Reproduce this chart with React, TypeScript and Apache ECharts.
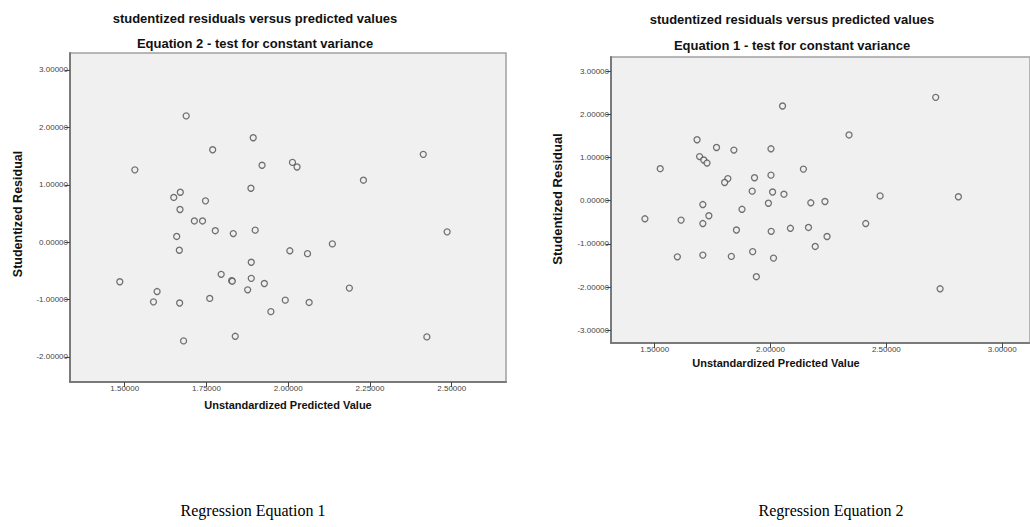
import React, { useEffect, useRef } from "react";
import * as echarts from "echarts";

// Left panel (Equation 2) – unstandardized predicted value vs studentized residual
const eq2Predicted = [
  1.688, 1.531, 1.769, 1.893, 1.92, 1.886, 1.65, 1.67, 1.747, 1.669, 1.713,
  1.738, 1.777, 1.832, 1.899, 1.659, 1.667, 1.887, 1.795, 1.827, 1.829, 1.887,
  1.485, 1.599, 1.876, 1.76, 1.588, 1.668, 1.68, 1.838, 2.013, 2.027, 2.23,
  2.413, 2.486, 2.005, 2.059, 2.135, 1.927, 2.187, 1.991, 2.064, 1.947, 2.424,
];
const eq2Residual = [
  2.2, 1.26, 1.61, 1.82, 1.34, 0.94, 0.78, 0.87, 0.72, 0.57, 0.37,
  0.37, 0.2, 0.15, 0.21, 0.1, -0.14, -0.35, -0.56, -0.67, -0.68, -0.63,
  -0.69, -0.86, -0.83, -0.98, -1.04, -1.06, -1.72, -1.64, 1.39, 1.31, 1.08,
  1.53, 0.18, -0.15, -0.2, -0.03, -0.72, -0.8, -1.01, -1.05, -1.21, -1.65,
];

// Right panel (Equation 1)
const eq1Predicted = [
  1.683, 1.524, 1.694, 1.712, 1.726, 1.767, 1.842, 2.002, 1.816, 1.802, 1.931,
  2.002, 1.921, 2.009, 1.708, 1.991, 1.877, 1.458, 1.614, 1.708, 1.734, 1.853,
  2.003, 1.598, 1.708, 1.831, 1.923, 2.013, 1.939, 2.052, 2.713, 2.339, 2.142,
  2.058, 2.473, 2.811, 2.174, 2.235, 2.086, 2.164, 2.244, 2.193, 2.411, 2.732,
];
const eq1Residual = [
  1.41, 0.74, 1.02, 0.94, 0.87, 1.23, 1.17, 1.2, 0.51, 0.42, 0.53,
  0.59, 0.22, 0.2, -0.09, -0.06, -0.2, -0.42, -0.45, -0.53, -0.35, -0.68,
  -0.71, -1.3, -1.26, -1.29, -1.18, -1.33, -1.76, 2.19, 2.39, 1.52, 0.73,
  0.15, 0.11, 0.09, -0.05, -0.02, -0.64, -0.62, -0.83, -1.06, -0.53, -2.04,
];

const eq2XTicks = [1.5, 1.75, 2.0, 2.25, 2.5];
const eq2YTicks = [-2, -1, 0, 1, 2, 3];
const eq1XTicks = [1.5, 2.0, 2.5, 3.0];
const eq1YTicks = [-3, -2, -1, 0, 1, 2, 3];

const titleMain = "studentized residuals versus predicted values";
const titleEq2 = "Equation 2 - test for constant variance";
const titleEq1 = "Equation 1 - test for constant variance";
const yName = "Studentized Residual";
const xName = "Unstandardized Predicted Value";
const caption1 = "Regression Equation 1";
const caption2 = "Regression Equation 2";

const SANS = '"Liberation Sans", Arial, sans-serif';
const NARROW = '"Liberation Sans Narrow", "Liberation Sans", Arial, sans-serif';

function axis(gridIndex: number, min: number, max: number, ticks: number[]) {
  return {
    type: "value" as const,
    gridIndex,
    min,
    max,
    axisLine: { show: true, onZero: false, lineStyle: { color: "#7a7a7a", width: 2 } },
    axisTick: {
      show: true,
      length: 5,
      customValues: ticks,
      lineStyle: { color: "#444", width: 1 },
    },
    splitLine: { show: false },
    axisLabel: {
      customValues: ticks,
      fontSize: 8,
      color: "#444",
      fontFamily: NARROW,
      margin: 2,
      formatter: (v: number) => v.toFixed(5),
    },
  };
}

function txt(text: string, x: number, y: number, font: string, rotation = 0, fill = "#111") {
  return {
    type: "text" as const,
    x,
    y,
    rotation,
    silent: true,
    style: {
      text,
      font,
      fill,
      align: "center",
      verticalAlign: "middle",
      textAlign: "center",
      textVerticalAlign: "middle",
    },
  };
}

export default function App() {
  const ref = useRef<HTMLDivElement>(null);

  useEffect(() => {
    if (!ref.current) return;
    const chart = echarts.init(ref.current, undefined, { renderer: "svg" });
    const marker = {
      color: "#f0f0f0",
      borderColor: "#505050",
      borderWidth: 1.3,
    };
    chart.setOption({
      animation: false,
      backgroundColor: "#ffffff",
      grid: [
        {
          left: 70,
          top: 53,
          width: 436,
          height: 329,
          show: true,
          backgroundColor: "#f0f0f0",
          borderColor: "#a0a0a0",
          borderWidth: 1.5,
        },
        {
          left: 611,
          top: 57,
          width: 435,
          height: 286,
          show: true,
          backgroundColor: "#f0f0f0",
          borderColor: "#a0a0a0",
          borderWidth: 1.5,
        },
      ],
      xAxis: [axis(0, 1.3327, 2.666, eq2XTicks), axis(1, 1.3116, 3.12, eq1XTicks)],
      yAxis: [axis(0, -2.436, 3.296, eq2YTicks), axis(1, -3.294, 3.324, eq1YTicks)],
      series: [
        {
          type: "scatter",
          xAxisIndex: 0,
          yAxisIndex: 0,
          symbol: "circle",
          symbolSize: 6,
          itemStyle: marker,
          data: eq2Predicted.map((x, i) => [x, eq2Residual[i]]),
        },
        {
          type: "scatter",
          xAxisIndex: 1,
          yAxisIndex: 1,
          symbol: "circle",
          symbolSize: 6,
          itemStyle: marker,
          data: eq1Predicted.map((x, i) => [x, eq1Residual[i]]),
        },
      ],
      graphic: [
        txt(titleMain, 255, 18, `bold 13px ${SANS}`),
        txt(titleEq2, 255, 43, `bold 13px ${SANS}`),
        txt(titleMain, 792, 19, `bold 13px ${SANS}`),
        txt(titleEq1, 792, 45, `bold 13px ${SANS}`),
        txt(yName, 18, 214, `bold 12.5px ${SANS}`, Math.PI / 2),
        txt(yName, 557, 199, `bold 13px ${SANS}`, Math.PI / 2),
        txt(xName, 288, 405, `bold 11px ${SANS}`),
        txt(xName, 776, 363, `bold 11px ${SANS}`),
        txt(caption1, 253, 510, `16px "Liberation Serif", "Times New Roman", serif`, 0, "#000"),
        txt(caption2, 831, 510, `16px "Liberation Serif", "Times New Roman", serif`, 0, "#000"),
      ],
    });
    return () => chart.dispose();
  }, []);

  return (
    <div
      ref={ref}
      style={{ position: "fixed", left: 0, top: 0, width: 1030, height: 527, overflow: "hidden" }}
    />
  );
}
